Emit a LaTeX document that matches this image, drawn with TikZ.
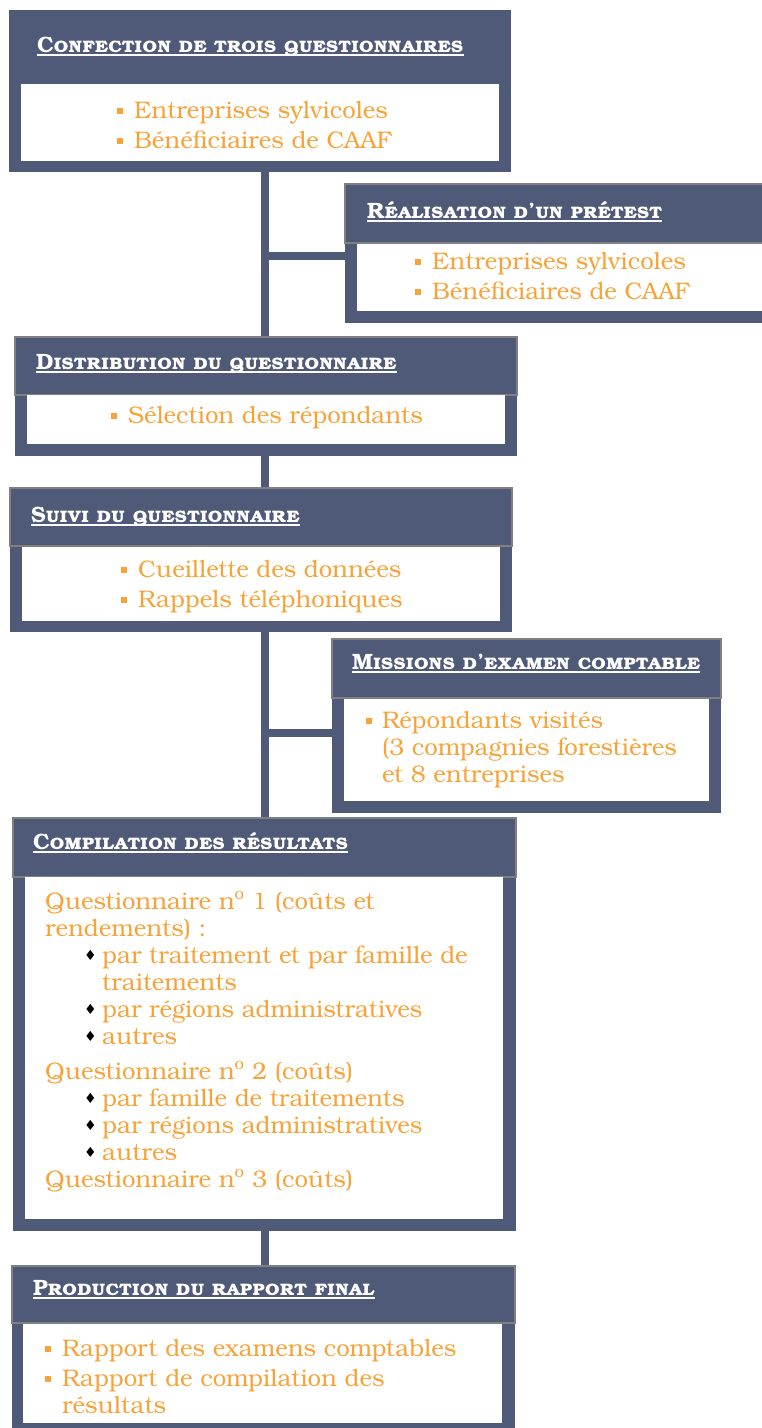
\documentclass[tikz,border=0pt]{standalone}
\usepackage{fontspec}
\setmainfont{TeX Gyre Bonum}
\newfontfamily\symfont{DejaVu Sans}
\usetikzlibrary{positioning,backgrounds}

\definecolor{slate}{RGB}{79,89,120}
\definecolor{amber}{RGB}{248,163,58}
\definecolor{rimgray}{RGB}{128,128,128}

\tikzset{
  frame/.style={fill=slate, anchor=north west, inner sep=0pt, outer sep=0pt},
  headbar/.style={fill=slate, draw=rimgray, line width=1.5pt, anchor=north west, inner sep=0pt, outer sep=0pt},
  bodybox/.style={fill=white, anchor=north west, inner sep=0pt, outer sep=0pt},
  title/.style={text=white, font=\fontsize{22.2}{24}\selectfont\bfseries\scshape, anchor=base west, inner sep=0pt},
  items/.style={text=amber, font=\fontsize{24}{27}\selectfont, align=left, anchor=base west, inner sep=0pt},
  trunk/.style={draw=slate, line width=8pt},
  ruleline/.style={draw=white, line width=1.5pt}
}
\newcommand{\sqb}{\makebox[17pt][l]{\rule[4pt]{6pt}{6pt}}}
\newcommand{\dmb}{\makebox[18pt][l]{\textcolor{black}{\raisebox{2.5pt}{\symfont\fontsize{14}{12}\selectfont ♦}}}}
\newcommand{\hang}{\hspace*{17pt}}

\begin{document}
\begin{tikzpicture}[x=1pt, y=-1pt]
\useasboundingbox (0,0) rectangle (762,1428);
\clip (0,0) rectangle (762,1428);

% confection
\node[frame, minimum width=502pt, minimum height=162pt] (conf) at (9,10) {};
\node[bodybox, minimum width=478pt, minimum height=77pt] (confbody) at (21,84) {};
\node[title] (conft) at (37,52) {Confection de trois questionnaires};
\node[items] (confi) at (117,148) {\sqb Entreprises sylvicoles\\[3pt]\sqb Bénéficiaires de CAAF};

% pretest
\node[frame, minimum width=430pt, minimum height=139pt] (pret) at (345,184) {};
\node[headbar, minimum width=430pt, minimum height=59pt] (prethead) at (345,184) {};
\node[bodybox, minimum width=420pt, minimum height=67pt] (pretbody) at (357,244) {};
\node[title] (prett) at (367,218) {Réalisation d’un prétest};
\node[items] (preti) at (415,299) {\sqb Entreprises sylvicoles\\[3pt]\sqb Bénéficiaires de CAAF};

% distribution
\node[frame, minimum width=502pt, minimum height=119pt] (dist) at (15,337) {};
\node[headbar, minimum width=502pt, minimum height=58pt] (disthead) at (15,337) {};
\node[bodybox, minimum width=478pt, minimum height=49pt] (distbody) at (27,395) {};
\node[title] (distt) at (36,369) {Distribution du questionnaire};
\node[items] (disti) at (111,423) {\sqb Sélection des répondants};

% suivi
\node[frame, minimum width=502pt, minimum height=144pt] (suivi) at (10,488) {};
\node[headbar, minimum width=502pt, minimum height=58pt] (suivihead) at (10,488) {};
\node[bodybox, minimum width=478pt, minimum height=74pt] (suivibody) at (22,547) {};
\node[title] (suivit) at (31,522) {Suivi du questionnaire};
\node[items] (suivii) at (121,607) {\sqb Cueillette des données\\[3pt]\sqb Rappels téléphoniques};

% missions
\node[frame, minimum width=389pt, minimum height=174pt] (miss) at (332,639) {};
\node[headbar, minimum width=389pt, minimum height=59pt] (misshead) at (332,639) {};
\node[bodybox, minimum width=365pt, minimum height=102pt] (missbody) at (344,699) {};
\node[title] (misst) at (352,669) {Missions d’examen comptable};
\node[items] (missi) at (366,782) {\makebox[16pt][l]{\rule[4pt]{6pt}{6pt}}Répondants visités\\
  \hspace*{16pt}(3 compagnies forestières\\ \hspace*{16pt}et 8 entreprises};

% compilation
\node[frame, minimum width=503pt, minimum height=413pt] (comp) at (13,818) {};
\node[headbar, minimum width=503pt, minimum height=59pt] (comphead) at (13,818) {};
\node[bodybox, minimum width=478pt, minimum height=342pt] (compbody) at (25,877) {};
\node[title] (compt) at (33,849) {Compilation des résultats};
\node[items] (compi) at (45,1187) {Questionnaire n\textsuperscript{o} 1 (coûts et\\
  rendements) :\\
  \hspace*{39pt}\dmb par traitement et par famille de\\
  \hspace*{57pt}traitements\\
  \hspace*{39pt}\dmb par régions administratives\\
  \hspace*{39pt}\dmb autres\\[8pt]
  Questionnaire n\textsuperscript{o} 2 (coûts)\\
  \hspace*{39pt}\dmb par famille de traitements\\
  \hspace*{39pt}\dmb par régions administratives\\
  \hspace*{39pt}\dmb autres\\
  Questionnaire n\textsuperscript{o} 3 (coûts)};

% production
\node[frame, minimum width=503pt, minimum height=170pt] (prod) at (12,1266) {};
\node[headbar, minimum width=503pt, minimum height=57pt] (prodhead) at (12,1266) {};
\node[bodybox, minimum width=479pt, minimum height=99pt] (prodbody) at (23,1324) {};
\node[title] (prodt) at (33,1295) {Production du rapport final};
\node[items] (prodi) at (45,1413) {\sqb Rapport des examens comptables\\[3pt]
  \sqb Rapport de compilation des\\ \hang résultats};

% underlines
\foreach \t in {conft,prett,distt,suivit,misst,compt,prodt}
  \draw[ruleline] ([yshift=-3pt]\t.base west) -- ([yshift=-3pt]\t.base east);

% trunk and branches
\begin{scope}[on background layer]
\coordinate (tk) at (265,0);
\coordinate (jpret) at (265,256);
\coordinate (jmiss) at (265,733);
\draw[trunk] (conf.south -| tk) -- (prod.north -| tk);
\draw[trunk] (jpret) -- (jpret -| pret.west);
\draw[trunk] (jmiss) -- (jmiss -| miss.west);
\end{scope}
\end{tikzpicture}
\end{document}
